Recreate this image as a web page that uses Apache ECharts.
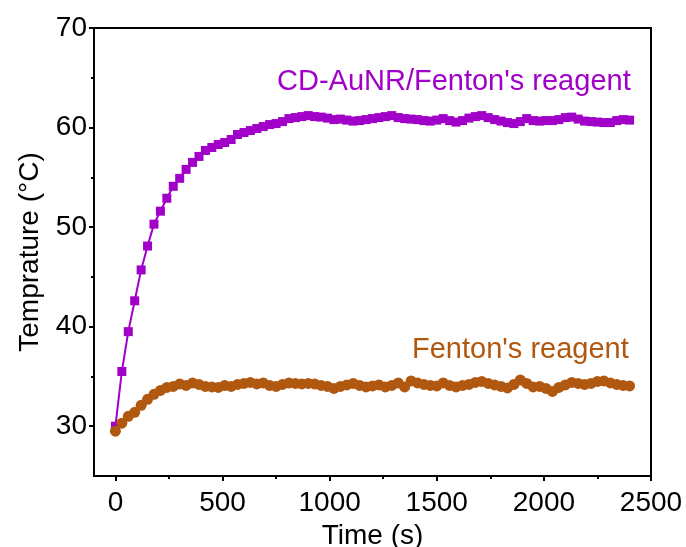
<!DOCTYPE html>
<html>
<head>
<meta charset="utf-8">
<script src="https://cdn.jsdelivr.net/npm/echarts@6/dist/echarts.min.js"></script>
<style>
html,body{margin:0;padding:0;background:#fff;}
#chart{width:686px;height:547px;}
</style>
</head>
<body>
<div id="chart"></div>
<script>
const timeS = [0,30,60,90,120,150,180,210,240,270,300,330,360,390,420,450,480,510,540,570,600,630,660,690,720,750,780,810,840,870,900,930,960,990,1020,1050,1080,1110,1140,1170,1200,1230,1260,1290,1320,1350,1380,1410,1440,1470,1500,1530,1560,1590,1620,1650,1680,1710,1740,1770,1800,1830,1860,1890,1920,1950,1980,2010,2040,2070,2100,2130,2160,2190,2220,2250,2280,2310,2340,2370,2400];
const cdAuNR = [30.0,35.5,39.5,42.6,45.7,48.1,50.3,51.6,52.9,54.1,54.9,55.8,56.5,57.1,57.7,58.0,58.3,58.5,58.8,59.3,59.5,59.7,59.9,60.1,60.3,60.4,60.6,60.9,61.0,61.1,61.2,61.1,61.05,60.95,60.8,60.85,60.75,60.65,60.7,60.8,60.9,61.0,61.1,61.2,61.0,60.9,60.85,60.8,60.7,60.65,60.75,60.9,60.7,60.55,60.7,60.95,61.1,61.2,61.0,60.8,60.65,60.5,60.4,60.6,60.9,60.7,60.65,60.7,60.7,60.8,61.0,61.05,60.85,60.65,60.6,60.55,60.5,60.5,60.7,60.8,60.75];
const fenton = [29.5,30.3,31.0,31.4,32.1,32.7,33.2,33.6,33.9,34.0,34.25,34.1,34.35,34.2,34.0,33.95,33.9,34.1,34.0,34.2,34.3,34.4,34.25,34.35,34.1,34.0,34.2,34.35,34.3,34.25,34.3,34.25,34.1,34.0,33.8,34.0,34.15,34.3,34.1,33.95,34.05,34.15,33.95,34.1,34.35,33.95,34.55,34.35,34.2,34.1,34.05,34.35,34.1,33.95,34.1,34.2,34.4,34.5,34.3,34.15,34.0,33.85,34.2,34.65,34.3,33.95,34.0,33.8,33.5,33.9,34.15,34.4,34.3,34.2,34.3,34.5,34.55,34.35,34.2,34.1,34.05];
const xMajorTicks = [0,500,1000,1500,2000,2500];
const xMinorTicks = [250,750,1250,1750,2250];
const yMajorTicks = [30,40,50,60,70];
const yMinorTicks = [35,45,55,65];
const seriesNames = ["CD-AuNR/Fenton's reagent","Fenton's reagent"];

const FONT = "Arial, 'Liberation Sans', sans-serif";
const PURPLE = '#A000C8';
const BROWN = '#B0580F';

function pairs(xs, ys){ return xs.map((x,i)=>[x, ys[i]]); }
const plain = v => String(v);

const chart = echarts.init(document.getElementById('chart'), null, {renderer:'canvas'});
const axisLine = {show:true, onZero:false, lineStyle:{color:'#000', width:2}};
chart.setOption({
  animation:false,
  backgroundColor:'#fff',
  grid:{left:94, right:35, top:28, bottom:71, containLabel:false, outerBoundsMode:'none',
        show:true, borderColor:'#000', borderWidth:2, backgroundColor:'transparent'},
  xAxis:[
    {type:'value', min:-100, max:2500, position:'bottom',
     name:'Time (s)', nameLocation:'middle', nameGap:36,
     nameTextStyle:{fontFamily:FONT, fontSize:28, color:'#000'},
     axisLine:axisLine,
     axisTick:{show:true, inside:false, length:5, lineStyle:{color:'#000', width:2}, customValues:xMajorTicks},
     axisLabel:{show:true, margin:13, fontFamily:FONT, fontSize:28, color:'#000', customValues:xMajorTicks, formatter:plain},
     splitLine:{show:false}},
    {type:'value', min:-100, max:2500, position:'bottom',
     axisLine:axisLine,
     axisTick:{show:true, inside:false, length:3, lineStyle:{color:'#000', width:2}, customValues:xMinorTicks},
     axisLabel:{show:false},
     splitLine:{show:false}}
  ],
  yAxis:[
    {type:'value', min:25, max:70, position:'left',
     name:'Temprature (°C)', nameLocation:'middle', nameGap:50,
     nameTextStyle:{fontFamily:FONT, fontSize:28, color:'#000'},
     axisLine:axisLine,
     axisTick:{show:true, inside:false, length:5, lineStyle:{color:'#000', width:2}, customValues:yMajorTicks},
     axisLabel:{show:true, margin:7, fontFamily:FONT, fontSize:28, color:'#000', customValues:yMajorTicks, formatter:plain},
     splitLine:{show:false}},
    {type:'value', min:25, max:70, position:'left',
     axisLine:axisLine,
     axisTick:{show:true, inside:false, length:3, lineStyle:{color:'#000', width:2}, customValues:yMinorTicks},
     axisLabel:{show:false},
     splitLine:{show:false}}
  ],
  series:[
    {name:seriesNames[0], type:'line', xAxisIndex:0, yAxisIndex:0, data:pairs(timeS, cdAuNR),
     symbol:'rect', symbolSize:9, showAllSymbol:true,
     lineStyle:{color:PURPLE, width:2}, itemStyle:{color:PURPLE}},
    {name:seriesNames[1], type:'line', xAxisIndex:0, yAxisIndex:0, data:pairs(timeS, fenton),
     symbol:'circle', symbolSize:11, showAllSymbol:true,
     lineStyle:{color:BROWN, width:2}, itemStyle:{color:BROWN}}
  ],
  graphic:[
    {type:'text', left:277, top:67, style:{text:seriesNames[0], fill:PURPLE, font:'29px '+FONT}},
    {type:'text', left:412, top:335, style:{text:seriesNames[1], fill:BROWN, font:'29px '+FONT}}
  ]
});
</script>
</body>
</html>
